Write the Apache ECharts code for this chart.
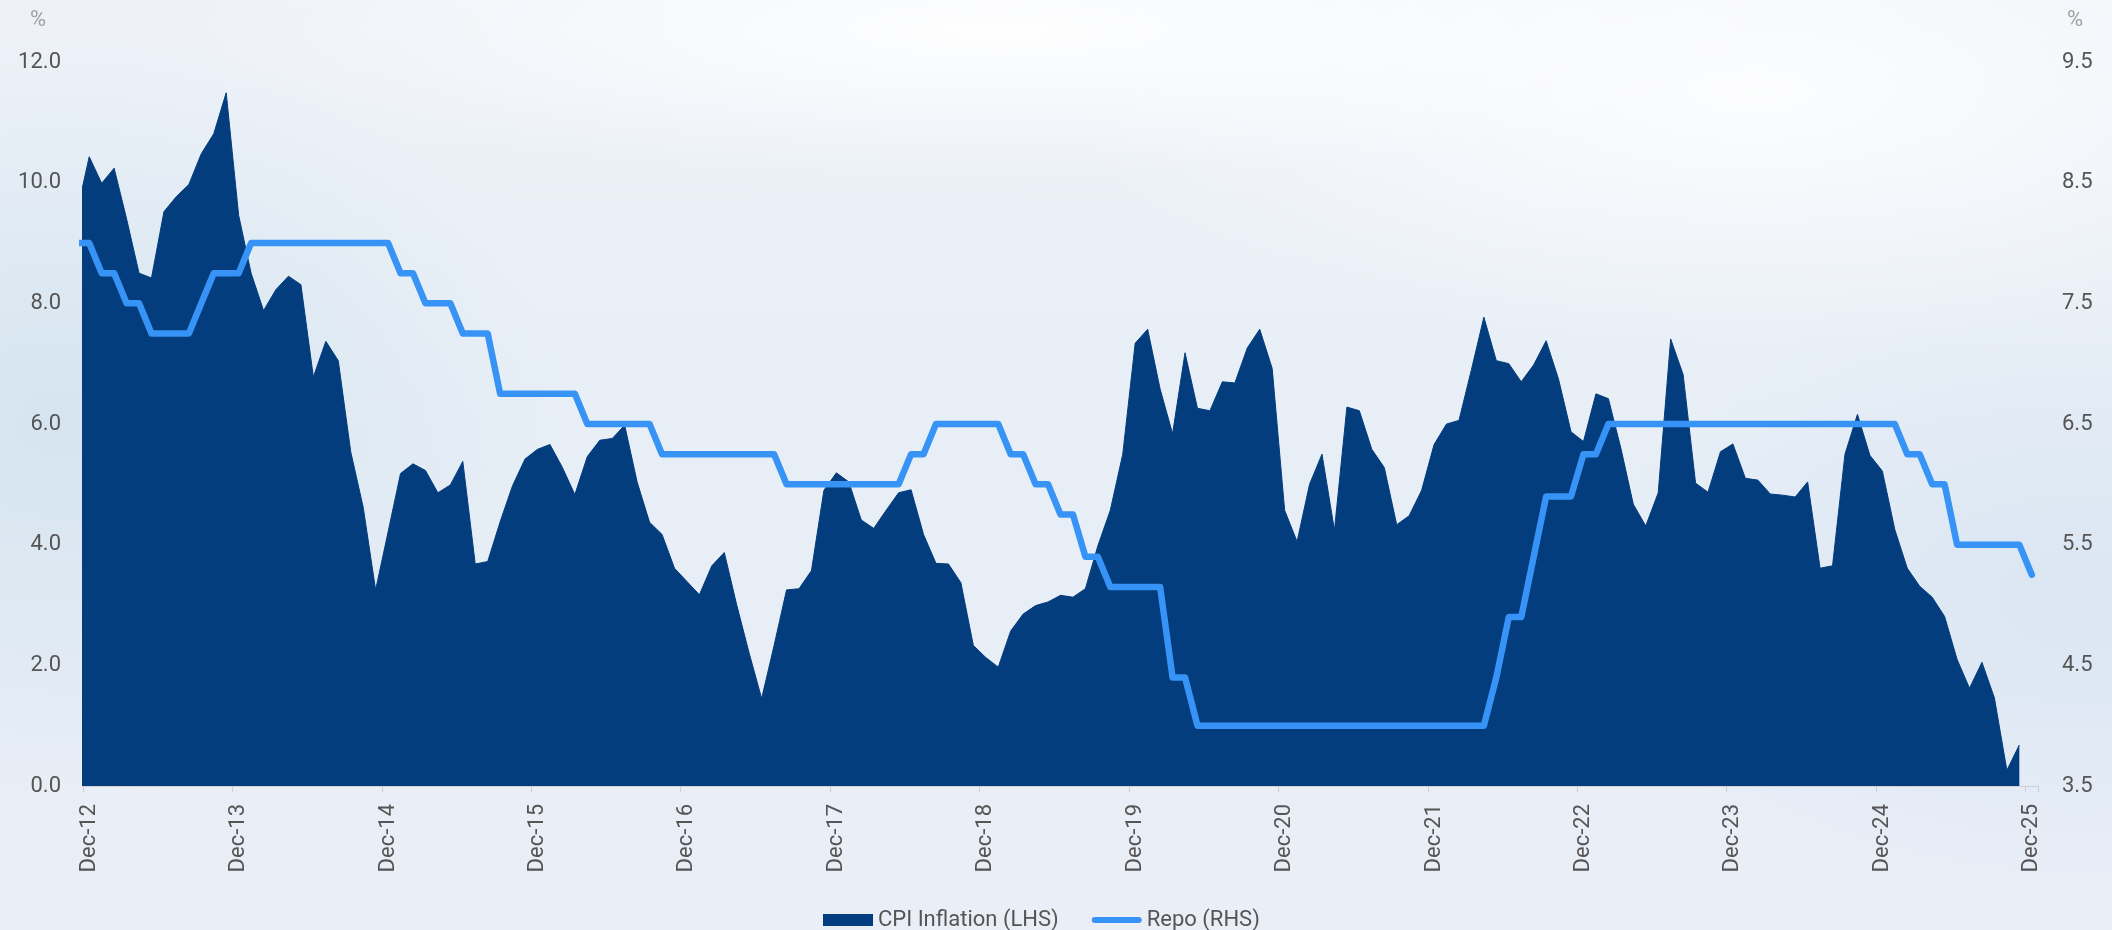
<!DOCTYPE html>
<html>
<head>
<meta charset="utf-8">
<script src="https://cdn.jsdelivr.net/npm/echarts@6/dist/echarts.min.js"></script>
<style>
  html, body { margin: 0; padding: 0; }
  body {
    width: 2112px; height: 930px; overflow: hidden;
    background:
      radial-gradient(ellipse 820px 150px at 1000px 30px, rgba(255,255,255,0.95), rgba(255,255,255,0) 100%),
      radial-gradient(ellipse 700px 260px at 1750px 90px, rgba(255,255,255,0.85), rgba(255,255,255,0) 100%),
      radial-gradient(ellipse 500px 380px at 60px 420px, rgba(208,226,238,0.8), rgba(208,226,238,0) 100%),
      radial-gradient(ellipse 500px 300px at 2080px 600px, rgba(214,228,242,0.8), rgba(214,228,242,0) 100%),
      linear-gradient(180deg, #eef2f8 0%, #e7eef6 50%, #eaeef7 100%);
  }
  #chart { width: 2112px; height: 930px; }
</style>
</head>
<body>
<div id="chart"></div>
<script>
// month labels, Nov-12 (clipped lead-in point) through Dec-25
const monthNames = ['Jan', 'Feb', 'Mar', 'Apr', 'May', 'Jun', 'Jul', 'Aug', 'Sep', 'Oct', 'Nov', 'Dec'];
const categories = ['Nov-12', 'Dec-12'];
for (let y = 13; y <= 25; y++) {
  monthNames.forEach(m => categories.push(m + '-' + y));
}

// CPI inflation, % y/y (LHS), Nov-12 .. Nov-25, Dec-25 not yet out
const cpi = [
  9.5, 10.43,
  9.99, 10.24, 9.4, 8.5, 8.42, 9.52, 9.77, 9.97, 10.48, 10.81, 11.49, 9.46,
  8.5, 7.88, 8.23, 8.45, 8.31, 6.78, 7.37, 7.05, 5.54, 4.62, 3.25, 4.21,
  5.18, 5.34, 5.23, 4.86, 4.99, 5.38, 3.68, 3.72, 4.38, 4.98, 5.42, 5.58,
  5.66, 5.28, 4.83, 5.46, 5.73, 5.76, 5.98, 5.04, 4.37, 4.17, 3.61, 3.39,
  3.17, 3.65, 3.87, 3.0, 2.2, 1.45, 2.33, 3.25, 3.27, 3.57, 4.9, 5.19,
  5.04, 4.41, 4.27, 4.57, 4.86, 4.91, 4.17, 3.69, 3.68, 3.37, 2.33, 2.13,
  1.97, 2.57, 2.85, 2.99, 3.05, 3.16, 3.13, 3.27, 3.98, 4.57, 5.5, 7.34,
  7.57, 6.58, 5.84, 7.18, 6.26, 6.22, 6.7, 6.68, 7.26, 7.57, 6.92, 4.57,
  4.05, 5.0, 5.5, 4.24, 6.28, 6.22, 5.58, 5.28, 4.33, 4.48, 4.9, 5.66,
  6.0, 6.06, 6.9, 7.77, 7.05, 7.0, 6.7, 6.98, 7.38, 6.74, 5.87, 5.71,
  6.5, 6.42, 5.6, 4.67, 4.31, 4.86, 7.41, 6.82, 5.02, 4.87, 5.54, 5.67,
  5.1, 5.07, 4.84, 4.82, 4.79, 5.04, 3.61, 3.65, 5.5, 6.16, 5.48, 5.22,
  4.25, 3.61, 3.31, 3.13, 2.81, 2.1, 1.62, 2.05, 1.46, 0.26, 0.68, null
];

// policy repo rate, % (RHS), Nov-12 .. Dec-25
const repo = [
  8.0, 8.0,
  7.75, 7.75, 7.5, 7.5, 7.25, 7.25, 7.25, 7.25, 7.5, 7.75, 7.75, 7.75,
  8.0, 8.0, 8.0, 8.0, 8.0, 8.0, 8.0, 8.0, 8.0, 8.0, 8.0, 8.0,
  7.75, 7.75, 7.5, 7.5, 7.5, 7.25, 7.25, 7.25, 6.75, 6.75, 6.75, 6.75,
  6.75, 6.75, 6.75, 6.5, 6.5, 6.5, 6.5, 6.5, 6.5, 6.25, 6.25, 6.25,
  6.25, 6.25, 6.25, 6.25, 6.25, 6.25, 6.25, 6.0, 6.0, 6.0, 6.0, 6.0,
  6.0, 6.0, 6.0, 6.0, 6.0, 6.25, 6.25, 6.5, 6.5, 6.5, 6.5, 6.5,
  6.5, 6.25, 6.25, 6.0, 6.0, 5.75, 5.75, 5.4, 5.4, 5.15, 5.15, 5.15,
  5.15, 5.15, 4.4, 4.4, 4.0, 4.0, 4.0, 4.0, 4.0, 4.0, 4.0, 4.0,
  4.0, 4.0, 4.0, 4.0, 4.0, 4.0, 4.0, 4.0, 4.0, 4.0, 4.0, 4.0,
  4.0, 4.0, 4.0, 4.0, 4.4, 4.9, 4.9, 5.4, 5.9, 5.9, 5.9, 6.25,
  6.25, 6.5, 6.5, 6.5, 6.5, 6.5, 6.5, 6.5, 6.5, 6.5, 6.5, 6.5,
  6.5, 6.5, 6.5, 6.5, 6.5, 6.5, 6.5, 6.5, 6.5, 6.5, 6.5, 6.5,
  6.5, 6.25, 6.25, 6.0, 6.0, 5.5, 5.5, 5.5, 5.5, 5.5, 5.5, 5.25
];

const seriesNames = ['CPI Inflation (LHS)', 'Repo (RHS)'];
const navy = '#033D7E';
const sky = '#3794F6';
const font = 'Roboto';

const isDec = (idx, label) => label.indexOf('Dec') === 0;

const chart = echarts.init(document.getElementById('chart'), null, { renderer: 'canvas' });

chart.setOption({
  backgroundColor: 'transparent',
  textStyle: { fontFamily: font },
  animation: false,
  grid: { left: 83, right: 74, top: 62, bottom: 144, containLabel: false },
  legend: {
    left: 818,
    top: 904,
    itemWidth: 50,
    itemHeight: 12,
    itemGap: 33,
    symbolKeepAspect: true,
    textStyle: { fontFamily: font, fontSize: 22, color: '#555' },
    data: [
      { name: seriesNames[0], icon: 'rect' },
      { name: seriesNames[1], icon: 'path://M3,0 L47,0 A3,3 0 0 1 47,6 L3,6 A3,3 0 0 1 3,0 Z' }
    ]
  },
  xAxis: {
    type: 'category',
    data: categories,
    min: 1,
    boundaryGap: true,
    axisLine: { lineStyle: { color: '#d2d2d2', width: 1 } },
    axisTick: { show: true, interval: isDec, length: 6, lineStyle: { color: '#cfcfcf' } },
    axisLabel: {
      interval: isDec,
      rotate: 90,
      margin: 18,
      fontFamily: font,
      fontSize: 22,
      color: '#555'
    },
    splitLine: { show: false }
  },
  yAxis: [
    {
      type: 'value',
      min: 0,
      max: 12,
      interval: 2,
      name: '%',
      nameLocation: 'end',
      nameGap: 31,
      nameTextStyle: { fontFamily: font, fontSize: 22, color: '#a0a0a0', align: 'center', padding: [0, 90, 0, 0] },
      axisLine: { show: false },
      axisTick: { show: false },
      splitLine: { show: false },
      axisLabel: {
        margin: 22,
        fontFamily: font,
        fontSize: 22,
        color: '#555',
        formatter: v => v.toFixed(1)
      }
    },
    {
      type: 'value',
      position: 'right',
      min: 3.5,
      max: 9.5,
      interval: 1,
      name: '%',
      nameLocation: 'end',
      nameGap: 31,
      nameTextStyle: { fontFamily: font, fontSize: 22, color: '#a0a0a0', align: 'center', padding: [0, 0, 0, 74] },
      axisLine: { show: false },
      axisTick: { show: false },
      splitLine: { show: false },
      axisLabel: {
        margin: 24,
        fontFamily: font,
        fontSize: 22,
        color: '#555',
        formatter: v => v.toFixed(1)
      }
    }
  ],
  series: [
    {
      name: seriesNames[0],
      type: 'line',
      yAxisIndex: 0,
      data: cpi,
      symbol: 'none',
      clip: true,
      connectNulls: false,
      itemStyle: { color: navy },
      lineStyle: { color: navy, width: 1 },
      areaStyle: { color: navy, opacity: 1 },
      z: 2
    },
    {
      name: seriesNames[1],
      type: 'line',
      yAxisIndex: 1,
      data: repo,
      symbol: 'none',
      clip: true,
      itemStyle: { color: sky },
      lineStyle: { color: sky, width: 6.5, cap: 'round', join: 'round' },
      z: 3
    }
  ]
});
</script>
</body>
</html>
